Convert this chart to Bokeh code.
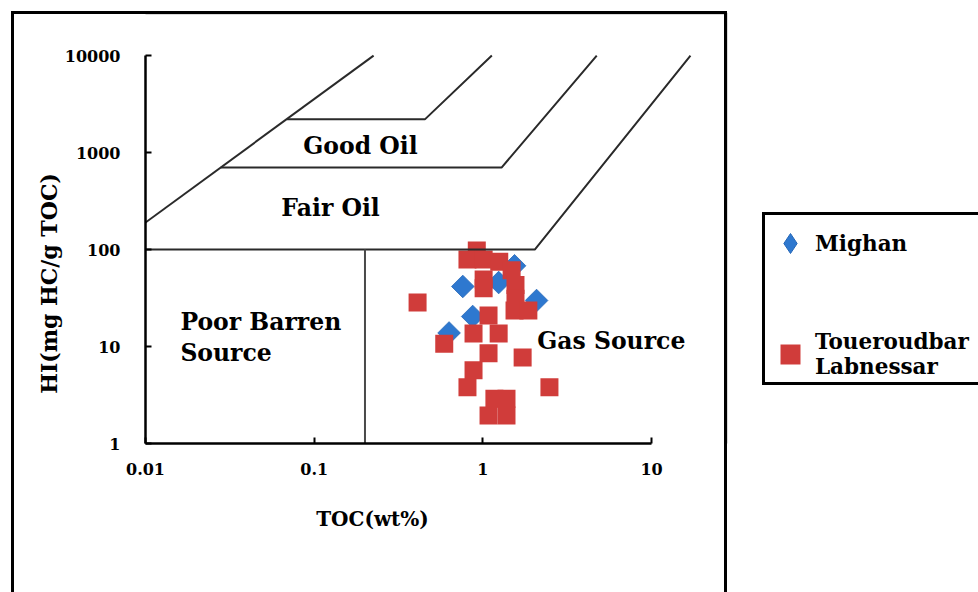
import math
from bokeh.plotting import figure
from bokeh.models import (FixedTicker, Range1d, Label, BoxAnnotation, Legend,
                          LegendItem, ColumnDataSource, InlineStyleSheet)
from bokeh.embed import file_html
from bokeh.resources import INLINE

# ---------------- data ----------------
mighan_toc = [0.76, 1.24, 1.54, 2.08, 0.87, 0.63]
mighan_hi = [41.6, 45.7, 68.0, 29.8, 20.4, 13.8]

tl_toc = [0.92, 0.81, 1.01, 1.25, 1.01, 1.01, 1.48, 1.56, 1.56, 1.54, 1.86,
          0.41, 1.08, 0.88, 1.24, 0.59, 1.08, 1.72, 0.88, 0.81, 2.48,
          1.17, 1.38, 1.08, 1.38]
tl_hi = [98.0, 79.0, 79.0, 75.0, 49.0, 40.0, 61.0, 43.0, 31.0, 23.5, 23.5,
         28.4, 20.9, 13.6, 13.6, 10.7, 8.5, 7.7, 5.7, 3.8, 3.8,
         2.9, 2.9, 1.94, 1.94]

x_ticks = [0.01, 0.1, 1.0, 10.0]
x_tick_labels = ["0.01", "0.1", "1", "10"]
y_ticks = [1.0, 10.0, 100.0, 1000.0, 10000.0]
y_tick_labels = ["1", "10", "100", "1000", "10000"]

# zone boundaries (TOC, HI)
b_hi100_toc = [0.01, 2.03, 17.0]
b_hi100_hi = [100, 100, 10000]
b_fair_toc = [0.0279, 1.29, 4.73]
b_fair_hi = [700, 700, 10000]
b_good_toc = [0.069, 0.453, 1.13]
b_good_hi = [2200, 2200, 10000]
b_left_toc = [0.01, 0.225]
b_left_hi = [190, 10000]
b_vert_toc = [0.2, 0.2]
b_vert_hi = [1, 100]

zone_names = ["Good Oil", "Fair Oil", "Poor Barren\nSource", "Gas Source"]
zone_toc = [0.188, 0.125, 0.0161, 2.1]
zone_hi = [1155, 265, 12.4, 11.3]
zone_align = ["center", "center", "left", "left"]

x_title = "TOC(wt%)"
y_title = "HI(mg HC/g TOC)"
series_names = ["Mighan", "Toueroudbar\nLabnessar"]

# ---------------- layout helpers ----------------
W, H = 978, 592
FL, FR, FT, FB = 145, 978, 0, 443    # plot frame edges (px)
XDEC = 168.7                          # px per decade of TOC
YDEC = 96.98                          # px per decade of HI


def px_to_toc(px):
    return 10 ** (-2 + (px - FL) / XDEC)


def py_to_hi(py):
    return 10 ** ((FB - py) / YDEC)


FONT = "DejaVu Serif"
RED = "#D03C3A"
BLUE, BLUE_LINE = "#2E78CF", "#2768B8"
LINE = "#2a2a2a"

# outer black frame of the figure panel (decorative border)
frame_css = InlineStyleSheet(css=(
    ":host::after { content: ''; position: absolute; left: 11px; top: 11px;"
    " width: 716px; height: 581px; border: 3px solid #000;"
    " border-bottom: none; box-sizing: border-box; pointer-events: none; }"))

p = figure(width=W, height=H, x_axis_type="log", y_axis_type="log",
           x_range=Range1d(0.01, px_to_toc(FR)),
           y_range=Range1d(1, py_to_hi(FT)),
           output_backend="svg", toolbar_location=None,
           min_border_left=FL, min_border_right=W - FR,
           min_border_top=FT, min_border_bottom=H - FB,
           background_fill_color="white", border_fill_color="white",
           outline_line_color=None, stylesheets=[frame_css])
p.grid.visible = False

xa = p.xaxis[0]
ya = p.yaxis[0]
xa.ticker = FixedTicker(ticks=x_ticks)
ya.ticker = FixedTicker(ticks=y_ticks)
xa.bounds = (x_ticks[0], x_ticks[-1])
ya.bounds = (y_ticks[0], y_ticks[-1])
xa.major_label_overrides = dict(zip(x_ticks, x_tick_labels))
ya.major_label_overrides = dict(zip(y_ticks, y_tick_labels))
for ax in (xa, ya):
    ax.axis_line_width = 2.5
    ax.axis_line_color = "black"
    ax.major_tick_in = 6
    ax.major_tick_out = 0
    ax.major_tick_line_width = 2
    ax.major_tick_line_color = "black"
    ax.minor_tick_line_color = None
    ax.major_label_text_font = FONT
    ax.major_label_text_font_style = "bold"
    ax.major_label_text_font_size = "16px"
    ax.major_label_text_color = "black"
ya.major_label_standoff = 25
xa.major_label_standoff = 19

# the part of the outer border that lies inside the plot frame
p.add_layout(BoxAnnotation(left=px_to_toc(12.5), right=px_to_toc(725.5),
                           top=py_to_hi(12.5), bottom=py_to_hi(620),
                           fill_color=None, line_color="black", line_width=3))

# points
src_m = ColumnDataSource(dict(toc=mighan_toc, hi=mighan_hi))
src_t = ColumnDataSource(dict(toc=tl_toc, hi=tl_hi))
r_m = p.scatter("toc", "hi", source=src_m, marker="square", size=16,
                angle=math.pi / 4, fill_color=BLUE, line_color=BLUE_LINE,
                line_width=0.8)
# legend swatch renderer (no visible point)
r_m_leg = p.scatter(x=[float("nan")], y=[float("nan")], marker="diamond",
                    size=16, fill_color=BLUE, line_color=BLUE_LINE,
                    line_width=1)
r_t = p.scatter("toc", "hi", source=src_t, marker="square", size=18,
                fill_color=RED, line_color=None)

# zone boundaries
for xs, ys in [(b_hi100_toc, b_hi100_hi), (b_fair_toc, b_fair_hi),
               (b_good_toc, b_good_hi), (b_left_toc, b_left_hi)]:
    p.line(xs, ys, line_color=LINE, line_width=2)
p.line(b_vert_toc, b_vert_hi, line_color="#4a4a4a", line_width=2)

# zone names
for name, tx, hy, al in zip(zone_names, zone_toc, zone_hi, zone_align):
    p.add_layout(Label(x=tx, y=hy, text=name, text_font=FONT,
                       text_font_style="bold", text_font_size="23.5px",
                       text_align=al, text_baseline="middle",
                       text_line_height=1.1, text_color="black"))

# axis titles (side panels: not clipped)
p.add_layout(Label(x=px_to_toc(372), y=py_to_hi(518), text=x_title,
                   text_font=FONT, text_font_style="bold",
                   text_font_size="20px", text_align="center",
                   text_baseline="middle", text_color="black"), "below")
p.add_layout(Label(x=px_to_toc(48), y=py_to_hi(283), text=y_title,
                   angle=math.pi / 2, text_font=FONT, text_font_style="bold",
                   text_font_size="22px", text_align="center",
                   text_baseline="middle", text_color="black"), "left")

legend = Legend(items=[LegendItem(label=series_names[0], renderers=[r_m_leg]),
                       LegendItem(label=series_names[1], renderers=[r_t])],
                location=(762 - FL, FB - 385), orientation="vertical",
                glyph_width=50, glyph_height=56, spacing=55, padding=0,
                margin=0, label_standoff=0, label_width=200,
                label_text_font=FONT, label_text_font_style="bold",
                label_text_font_size="21.5px", label_text_line_height=1.2,
                label_text_color="black",
                border_line_color="black", border_line_width=3,
                border_line_alpha=1.0,
                background_fill_color="white", background_fill_alpha=1.0)
p.add_layout(legend)

open("out.html", "w").write(file_html(p, INLINE, "HI vs TOC"))
